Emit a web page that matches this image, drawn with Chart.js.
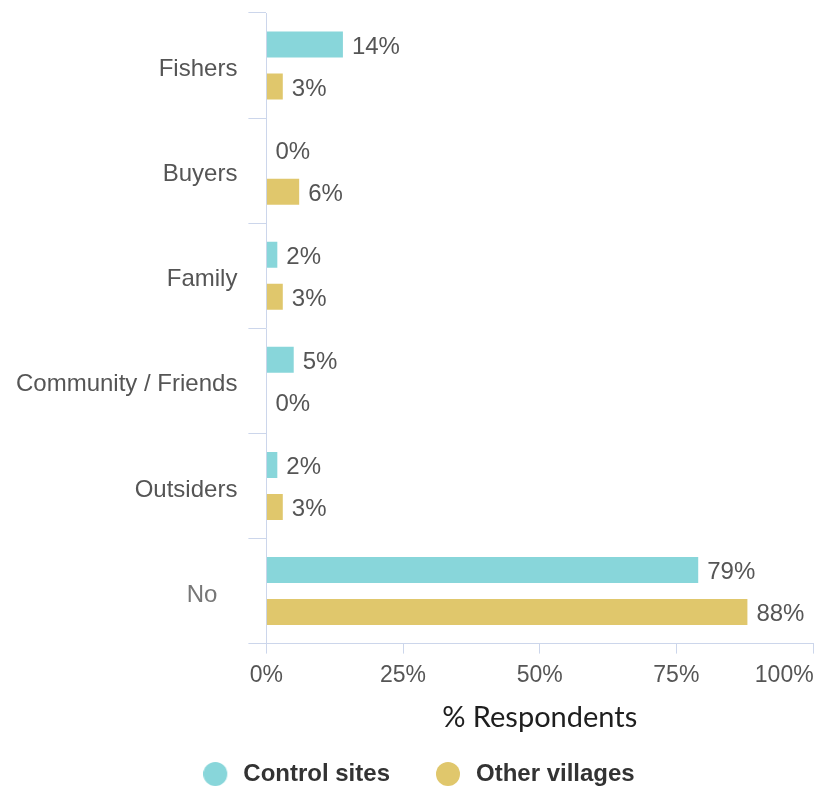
<!DOCTYPE html>
<html>
<head>
<meta charset="utf-8">
<title>Respondents by source</title>
<script src="https://cdn.jsdelivr.net/npm/chart.js@4.4.1/dist/chart.umd.min.js"></script>
<style>
  html, body { margin: 0; padding: 0; background: #ffffff; }
  #wrap { width: 815px; height: 786px; }
</style>
</head>
<body>
<div id="wrap"><canvas id="chart" width="815" height="786"></canvas></div>
<script>
// Categories (y axis) and the share of respondents per group, in percent
const categories = ['Fishers', 'Buyers', 'Family', 'Community / Friends', 'Outsiders', 'No'];
const controlSites = [14, 0, 2, 5, 2, 79];
const otherVillages = [3, 6, 3, 0, 3, 88];
const seriesNames = ['Control sites', 'Other villages'];
const seriesColors = ['#88d6da', '#e0c76c'];
const xTicks = [0, 25, 50, 75, 100];

const FONT = "'Liberation Sans', Arial, sans-serif";
const AXIS_LINE = '#ccd6eb';

// Round legend marker, drawn at the left of a slightly wider box
function legendDot(color) {
  const c = document.createElement('canvas');
  c.width = 28;
  c.height = 24;
  const g = c.getContext('2d');
  g.fillStyle = color;
  g.beginPath();
  g.arc(12, 12, 12, 0, Math.PI * 2);
  g.fill();
  return c;
}
const legendDots = seriesColors.map(legendDot);

// Writes the value at the end of each bar
const barValueLabels = {
  id: 'barValueLabels',
  afterDatasetsDraw(chart) {
    const ctx = chart.ctx;
    ctx.save();
    ctx.font = '24px ' + FONT;
    ctx.fillStyle = '#555555';
    ctx.textAlign = 'left';
    ctx.textBaseline = 'middle';
    chart.data.datasets.forEach((ds, di) => {
      chart.getDatasetMeta(di).data.forEach((bar, i) => {
        ctx.fillText(ds.data[i] + '%', bar.x + 9, bar.y + 2.5);
      });
    });
    ctx.restore();
  }
};

// Lets the category labels use the full left margin (the legend keeps its own inset)
const widenCategoryAxis = {
  id: 'widenCategoryAxis',
  afterLayout(chart) {
    chart.scales.y.left = 0;
  }
};

new Chart(document.getElementById('chart'), {
  type: 'bar',
  data: {
    labels: categories.map(c => c === 'No' ? c + '   ' : c),
    datasets: [
      {
        label: seriesNames[0],
        data: controlSites,
        backgroundColor: seriesColors[0],
        categoryPercentage: 0.8,
        barPercentage: 0.62
      },
      {
        label: seriesNames[1],
        data: otherVillages,
        backgroundColor: seriesColors[1],
        categoryPercentage: 0.8,
        barPercentage: 0.62
      }
    ]
  },
  options: {
    indexAxis: 'y',
    responsive: false,
    animation: false,
    layout: { padding: { top: 13, right: 2, left: 25, bottom: -10 } },
    scales: {
      y: {
        type: 'category',
        afterFit(scale) {
          scale.paddingTop = 0;
          scale.paddingBottom = 0;
          scale.width -= 20;
        },
        grid: {
          offset: true,
          drawOnChartArea: false,
          tickLength: 18,
          color: AXIS_LINE,
          lineWidth: 1
        },
        border: { color: AXIS_LINE },
        ticks: {
          padding: 11,
          labelOffset: 4,
          font: { family: FONT, size: 24 },
          color: ctx => ctx.index === 5 ? '#777777' : '#555555'
        }
      },
      x: {
        min: 0,
        max: 100,
        afterBuildTicks(scale) {
          scale.ticks = xTicks.map(v => ({ value: v }));
        },
        afterFit(scale) {
          scale.paddingRight = 0;
        },
        grid: {
          drawOnChartArea: false,
          tickLength: 10,
          color: AXIS_LINE
        },
        border: { color: AXIS_LINE },
        ticks: {
          padding: 8,
          font: { family: FONT, size: 23 },
          color: '#555555',
          callback: v => v === 100 ? '100%         ' : v + '%'
        },
        title: {
          display: true,
          text: '% Respondents',
          font: { family: "Lato, 'Open Sans', sans-serif", size: 29 },
          color: '#1e1e1e',
          padding: { top: 3, bottom: -19 }
        }
      }
    },
    plugins: {
      legend: {
        position: 'bottom',
        labels: {
          usePointStyle: true,
          pointStyleWidth: 28,
          boxHeight: 17,
          padding: 46,
          color: '#333333',
          font: { family: FONT, size: 24, weight: 'bold' },
          generateLabels(chart) {
            const items = Chart.defaults.plugins.legend.labels.generateLabels(chart);
            items.forEach((item, i) => { item.pointStyle = legendDots[i]; });
            return items;
          }
        }
      },
      tooltip: { enabled: false }
    }
  },
  plugins: [barValueLabels, widenCategoryAxis]
});
</script>
</body>
</html>
